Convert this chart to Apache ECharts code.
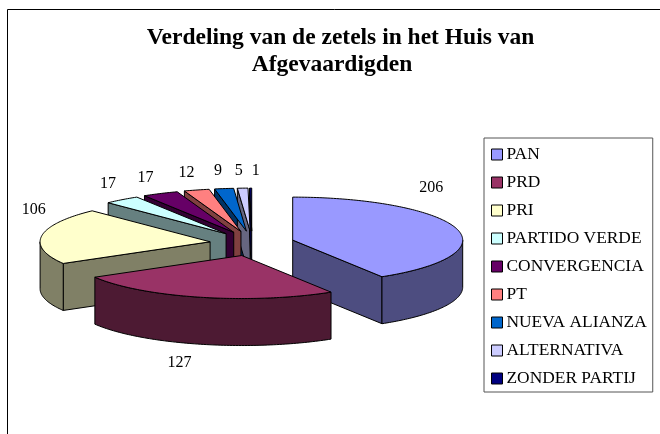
<!DOCTYPE html>
<html>
<head>
<meta charset="utf-8">
<style>html,body{margin:0;padding:0;background:#fff}#c{width:660px;height:434px}</style>
<script src="https://cdn.jsdelivr.net/npm/echarts@6/dist/echarts.min.js"></script>
</head>
<body>
<div id="c"></div>
<script>
const parties = ['PAN','PRD','PRI','PARTIDO VERDE','CONVERGENCIA','PT','NUEVA ALIANZA','ALTERNATIVA','ZONDER PARTIJ'];
const seats = [206,127,106,17,17,12,9,5,1];
const titleLines = ['Verdeling van de zetels in het Huis van','Afgevaardigden'];
const topColors = ['#9999FF','#993366','#FFFFCC','#CCFFFF','#660066','#FF8080','#0066CC','#CCCCFF','#000080'];
const sideColors = ['#4D4D80','#4D1A33','#808066','#668080','#330033','#804040','#003366','#666680','#000040'];
const labelNudges = [[-25,-41],[-21,66],[-8,-26],[-14,-16],[-15,-16],[-10,-17],[-6,-18],[-4,-17],[5,-17]];

const FONT = '"Liberation Serif", serif';
const CX = 252, CY = 243.5, RX = 170, RY = 43, DEPTH = 47, EX = 42.3, EY = 12.4;
const total = seats.reduce((a, b) => a + b, 0);
const toRad = d => d * Math.PI / 180;

function sliceRange(i) {
  let before = 0;
  for (let k = 0; k < i; k++) before += seats[k];
  return [before / total * 360, (before + seats[i]) / total * 360];
}
function rimPoint(c, deg) {
  return [c[0] + RX * Math.sin(toRad(deg)), c[1] - RY * Math.cos(toRad(deg))];
}
function arcPoints(c, a, b) {
  const pts = [];
  const n = Math.max(2, Math.ceil(Math.abs(b - a)));
  for (let k = 0; k <= n; k++) pts.push(rimPoint(c, a + (b - a) * k / n));
  return pts;
}
const drop = pts => pts.map(p => [p[0], p[1] + DEPTH]);

function makeRender(i) {
  return function (params, api) {
    const [a, b] = sliceRange(i);
    const mid = (a + b) / 2;
    const c = [CX + EX * Math.sin(toRad(mid)), CY - EY * Math.cos(toRad(mid))];
    const stroke = { stroke: '#000', lineWidth: 1, lineJoin: 'round' };
    const children = [];
    const side = { fill: sideColors[i], ...stroke };
    const wall = deg => {
      const p = rimPoint(c, deg);
      children.push({ type: 'polygon', z2: 1, shape: { points: [c, p, [p[0], p[1] + DEPTH], [c[0], c[1] + DEPTH]] }, style: side });
    };
    if (Math.sin(toRad(a)) < -1e-6) wall(a);
    if (Math.sin(toRad(b)) > 1e-6) wall(b);
    const fa = Math.max(a, 90), fb = Math.min(b, 270);
    if (fb > fa) {
      const arc = arcPoints(c, fa, fb);
      children.push({ type: 'polygon', z2: 2, shape: { points: arc.concat(drop(arc).reverse()) }, style: side });
    }
    children.push({ type: 'polygon', z2: 3, shape: { points: [c].concat(arcPoints(c, a, b)) }, style: { fill: topColors[i], ...stroke } });
    const rim = rimPoint(c, mid);
    children.push({
      type: 'text', z2: 4,
      style: {
        text: String(api.value(0)),
        x: rim[0] + labelNudges[i][0], y: rim[1] + labelNudges[i][1],
        textAlign: 'center', textVerticalAlign: 'middle',
        font: '16px ' + FONT, fill: '#000'
      }
    });
    return { type: 'group', children };
  };
}

const series = parties.map((name, i) => {
  const [a, b] = sliceRange(i);
  const mid = (a + b) / 2;
  return {
    type: 'custom', name, coordinateSystem: 'none',
    z: 10 + Math.round((1 - Math.cos(toRad(mid))) * 20),
    itemStyle: { color: topColors[i] },
    data: [[seats[i]]],
    renderItem: makeRender(i)
  };
});

const titleStyle = { fontFamily: FONT, fontWeight: 'bold', fontSize: 23.5, color: '#000' };
const chart = echarts.init(document.getElementById('c'), null, { renderer: 'canvas' });
chart.setOption({
  animation: false,
  backgroundColor: '#fff',
  title: [
    { text: titleLines[0], left: 335.5, top: 21, textAlign: 'center', textStyle: titleStyle },
    { text: titleLines[1], left: 327, top: 48, textAlign: 'center', textStyle: titleStyle }
  ],
  legend: {
    orient: 'vertical', left: 484, top: 138,
    data: parties,
    icon: 'rect', itemWidth: 11, itemHeight: 11, itemGap: 9,
    padding: [7, 6, 4, 7],
    borderColor: '#555', borderWidth: 1, backgroundColor: '#fff',
    selectedMode: false,
    inactiveColor: '#000',
    itemStyle: { borderColor: '#000', borderWidth: 1 },
    textStyle: { fontFamily: FONT, fontSize: 17.4, color: '#000', lineHeight: 17, padding: [0, 0, 2, -1] }
  },
  graphic: [{
    type: 'rect', z: 0, silent: true,
    shape: { x: 7.5, y: 9.5, width: 800, height: 600 },
    style: { fill: 'none', stroke: '#000', lineWidth: 1 }
  }],
  series
});
</script>
</body>
</html>
